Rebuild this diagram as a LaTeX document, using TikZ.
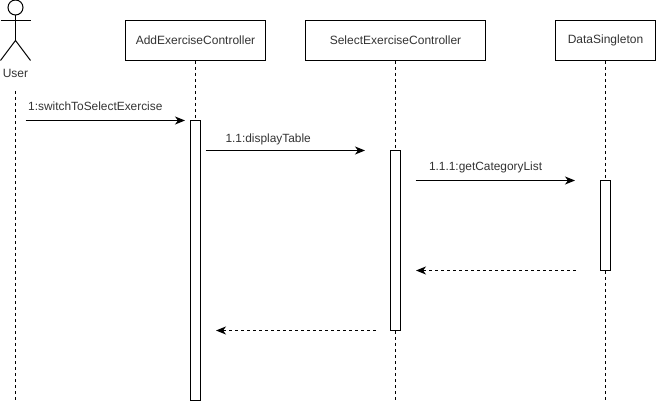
\documentclass[tikz,border=0pt]{standalone}
\usepackage{fontspec}
\setmainfont{Liberation Sans}
\usetikzlibrary{arrows.meta}
\definecolor{txt}{HTML}{333333}
\tikzset{
  x=1pt,y=-1pt,
  every path/.style={line width=1pt},
  obj/.style={draw=black,fill=white,minimum height=40pt,inner sep=0pt,font=\fontsize{12}{14}\selectfont,text=txt},
  act/.style={draw=black,fill=white,minimum width=10pt,inner sep=0pt},
  life/.style={densely dashed,dash pattern=on 3pt off 3pt},
  lbl/.style={inner sep=0pt,font=\fontsize{11.9}{14}\selectfont,text=txt,anchor=base west},
  call/.style={-{Stealth[length=10pt,width=8pt,inset=3pt]}},
  ret/.style={call,dash pattern=on 3pt off 3pt},
}
\begin{document}
\begin{tikzpicture}
\useasboundingbox (0,0) rectangle (656,403);
% lifelines
\node[obj,minimum width=140pt] (a) at (195.5,40.5) {AddExerciseController};
\node[obj,minimum width=180pt] (b) at (395.5,40.5) {SelectExerciseController};
\node[obj,minimum width=100pt] (c) at (605.5,40.5) {DataSingleton};
\coordinate (uTop) at (15.5,91);
\coordinate (uEnd) at (15.5,400.5);
\coordinate (aEnd) at (195.5,400.5);
\coordinate (bEnd) at (395.5,400.5);
\coordinate (cEnd) at (605.5,400.5);
\draw[life] (uTop) -- (uEnd);
\draw[life] (a.south) -- (aEnd);
\draw[life] (b.south) -- (bEnd);
\draw[life] (c.south) -- (cEnd);
% activations
\node[act,minimum height=280pt] (aa) at (195.5,260.5) {};
\node[act,minimum height=180pt] (ba) at (395.5,240.5) {};
\node[act,minimum height=90pt] (ca) at (605.5,225.5) {};
% actor
\draw (15.5,7.5) circle (7.5);
\draw (15.5,15) -- (15.5,40);
\draw (0.5,20.5) -- (30.5,20.5);
\draw (0.5,60.5) -- (15.5,40.5) -- (30.5,60.5);
\node[inner sep=0pt,font=\fontsize{12}{14}\selectfont,text=txt,anchor=base] (user) at (15.5,77.5) {User};
% messages
\coordinate (m1s) at (25.5,120.5);  \coordinate (m1e) at (185,120.5);
\coordinate (m2s) at (205.5,150.5); \coordinate (m2e) at (365,150.5);
\coordinate (m3s) at (415.5,180.5); \coordinate (m3e) at (575,180.5);
\coordinate (m4s) at (575.5,270.5); \coordinate (m4e) at (416,270.5);
\coordinate (m5s) at (375.5,330.5); \coordinate (m5e) at (216,330.5);
\draw[call] (m1s) -- (m1e);
\draw[call] (m2s) -- (m2e);
\draw[call] (m3s) -- (m3e);
\draw[ret] (m4s) -- (m4e);
\draw[ret] (m5s) -- (m5e);
\node[lbl] (l1) at (27.7,111) {1:switchToSelectExercise};
\node[lbl] (l2) at (225,143) {1.1:displayTable};
\node[lbl] (l3) at (428.5,171) {1.1.1:getCategoryList};
\end{tikzpicture}
\end{document}
